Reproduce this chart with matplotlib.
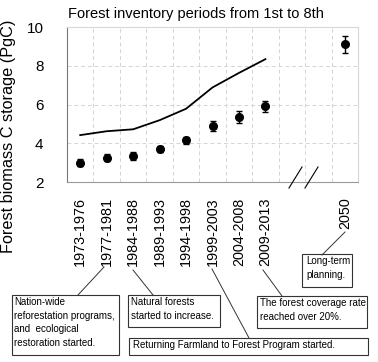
import numpy as np
import matplotlib
matplotlib.use('Agg')
import matplotlib.pyplot as plt
from matplotlib.lines import Line2D
from matplotlib.patches import Rectangle

# 数据
periods = ['1973-1976', '1977-1981', '1984-1988', '1989-1993',
           '1994-1998', '1999-2003', '2004-2008', '2009-2013']
biomass = [3.0, 3.25, 3.35, 3.7, 4.15, 4.9, 5.35, 5.9]
biomass_err = [0.17, 0.17, 0.19, 0.17, 0.19, 0.26, 0.3, 0.3]
trend = [4.42, 4.62, 4.72, 5.19, 5.78, 6.88, 7.63, 8.34]
future_label = '2050'
future_value = 9.1
future_err = 0.45

notes = [
    # text, box (x0, y0, x1, y1) in pixels, text start, line from, line to
    ("Nation-wide\nreforestation programs,\nand  ecological\nrestoration started.",
     (12, 295, 119, 355), (14, 297), (78, 295), (104, 267)),
    ("Natural forests\nstarted to increase.",
     (128, 295, 220, 327), (131, 297), (153, 295), (133, 270)),
    ("Returning Farmland to Forest Program started.",
     (129, 338, 368, 355), (133, 340), (249, 338), (212, 269)),
    ("The forest coverage rate\nreached over 20%.",
     (257, 296, 367, 328), (260, 298), (282, 296), (263, 270)),
    ("Long-term\nplanning.",
     (302, 254, 352, 287), (306, 256), (345, 232), (322, 255)),
]

W, H = 378, 362
plt.rcParams['font.family'] = ['Liberation Sans', 'DejaVu Sans']

fig = plt.figure(figsize=(W / 100, H / 100), dpi=100)
ax = fig.add_axes([67 / W, 1 - 182 / H, (358 - 67) / W, (182 - 27) / H])


def px(x, y):
    return (x / W, 1 - y / H)


x = np.arange(len(periods))
fx = len(periods) + 2

ax.plot(x, trend, color='black', lw=1.3, zorder=3)
ax.errorbar(x, biomass, yerr=biomass_err, fmt='o', color='black',
            ms=5.5, capsize=2.5, elinewidth=1, capthick=1, zorder=4)
ax.errorbar([fx], [future_value], yerr=[future_err], fmt='o', color='black',
            ms=5.5, capsize=2.5, elinewidth=1, capthick=1, zorder=4)

ax.set_xlim(-0.5, fx + 0.5)
ax.set_ylim(2, 10)
ax.set_yticks([2, 4, 6, 8, 10])
ax.set_xticks(list(x) + [fx])
ax.set_xticklabels(periods + [future_label], rotation=90, fontsize=10.4,
                   va='top', ha='center')
ax.set_xticks(np.arange(-0.5, fx + 0.5, 1)[1:], minor=True)
ax.tick_params(axis='both', length=0, which='both')
ax.tick_params(axis='x', pad=11)
ax.tick_params(axis='y', labelsize=11, pad=17)

ax.grid(False)
ax.xaxis.grid(True, which='minor', color='#d4d4d4', ls=(0, (4, 3)), lw=0.7)
ax.yaxis.grid(True, which='major', color='#d4d4d4', ls=(0, (4, 3)), lw=0.7)

ax.spines['left'].set_color('#777777')
ax.spines['bottom'].set_color('#999999')
ax.spines['top'].set_color('#d8d8d8')
ax.spines['right'].set_color('#d8d8d8')
for s in ax.spines.values():
    s.set_linewidth(0.8)

ax.set_ylabel('Forest biomass C storage (PgC)', fontsize=11.7)
ax.yaxis.set_label_coords((16 - 67) / (358 - 67), (182 - 136) / (182 - 27))

fig.text(*px(68, 14), 'Forest inventory periods from 1st to 8th',
         fontsize=10.5, ha='left', va='center')

# 断轴标记
for x0 in (289, 305):
    fig.add_artist(Line2D([x0 / W, (x0 + 13) / W], [1 - 188 / H, 1 - 167 / H],
                          transform=fig.transFigure, color='black', lw=0.8))

# 注释框
for text, box, tpos, p0, p1 in notes:
    x0, y0, x1, y1 = box
    fig.add_artist(Rectangle(px(x0, y1), (x1 - x0) / W, (y1 - y0) / H,
                             transform=fig.transFigure, fill=False,
                             edgecolor='#333333', lw=0.8))
    fig.text(*px(*tpos), text, fontsize=7, ha='left', va='top',
             linespacing=1.45)
    fig.add_artist(Line2D([p0[0] / W, p1[0] / W], [1 - p0[1] / H, 1 - p1[1] / H],
                          transform=fig.transFigure, color='#333333', lw=0.7))

fig.savefig('out.png', dpi=100)
